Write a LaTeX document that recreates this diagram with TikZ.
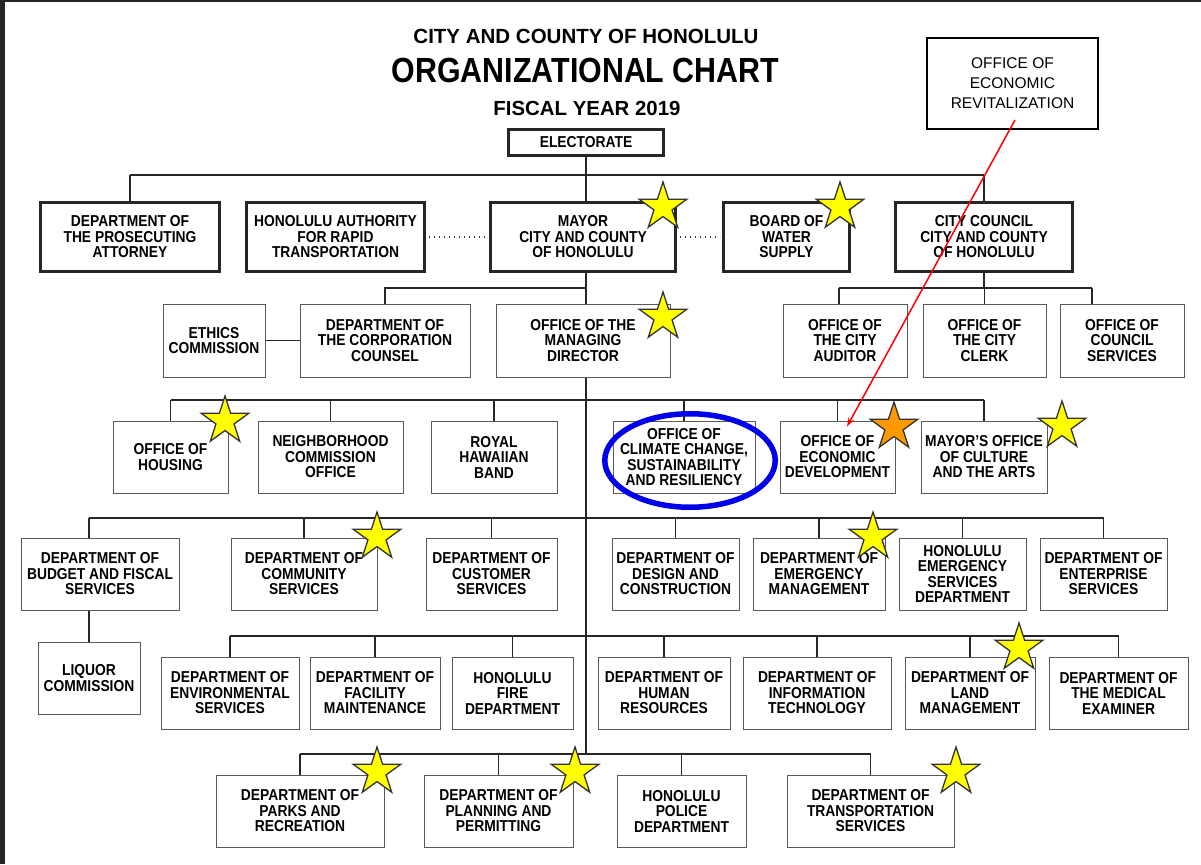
\documentclass[tikz,border=0pt]{standalone}
\usepackage{fontspec}
\setmainfont{Liberation Sans}
\newfontfamily\narrowfont[FakeStretch=0.875]{Liberation Sans}
\newfontfamily\headfont[FakeStretch=0.87]{Liberation Sans}
\usetikzlibrary{arrows.meta,shapes.geometric,backgrounds}
\definecolor{starfill}{RGB}{255,255,0}
\definecolor{staredge}{RGB}{51,51,51}
\definecolor{hiorange}{RGB}{255,153,0}
\definecolor{ringblue}{RGB}{0,0,235}
\definecolor{screenedge}{RGB}{38,38,38}
\tikzset{every picture/.style={line width=0.75pt},
  boxdim/.style 2 args={minimum width=#1pt, minimum height=#2pt},
  dept/.style={draw=black!65, line width=1pt, fill=white, align=center, inner sep=0pt,
    font=\narrowfont\bfseries\fontsize{15.8}{15.5}\selectfont},
  head/.style={dept, draw=black!85, line width=3pt},
  memo/.style={draw=black, line width=2pt, fill=white, align=center, inner sep=0pt,
    font=\fontsize{15.5}{20}\selectfont},
  link/.style={draw=black!85, line width=1.6pt},
  liaison/.style={draw=black!80, line width=1.3pt, dash pattern=on 1.3pt off 3.7pt},
  goldstar/.style={star, star points=5, star point ratio=2.618, minimum size=50pt,
    inner sep=0pt, fill=starfill, draw=staredge, line width=1.3pt},
  pointer/.style={draw=red, line width=1.5pt, -{Stealth[length=9pt,width=6pt]}}}

\begin{document}
\begin{tikzpicture}[x=1pt,y=-1pt]
    \useasboundingbox (0,0) rectangle (1201,864);
    \fill[screenedge] (0,0) rectangle (4.5,864);
    \fill[screenedge] (0,0) rectangle (1201,2);

    % heading
    \node[anchor=base, font=\bfseries\fontsize{20.5}{24}\selectfont] (city) at (586,44) {CITY AND COUNTY OF HONOLULU};
    \node[anchor=base, font=\headfont\bfseries\fontsize{34.9}{38}\selectfont] (title) at (585.5,82.5) {ORGANIZATIONAL CHART};
    \node[anchor=base, font=\bfseries\fontsize{20.4}{24}\selectfont] (fiscal) at (587,115.5) {FISCAL YEAR 2019};

    % elected level
    \node[head, boxdim={155}{26}] (elect) at (586,142.5) {ELECTORATE};
    \node[head, boxdim={179}{69}] (prosec) at (130,237) {DEPARTMENT OF\\THE PROSECUTING\\ATTORNEY};
    \node[head, boxdim={178}{69}] (hart) at (335.5,237) {HONOLULU AUTHORITY\\FOR RAPID\\TRANSPORTATION};
    \node[head, boxdim={185}{69}] (mayor) at (583,237) {MAYOR\\CITY AND COUNTY\\OF HONOLULU};
    \node[head, boxdim={126}{69}] (bws) at (786.5,237) {BOARD OF\\WATER\\SUPPLY};
    \node[head, boxdim={177}{69}] (council) at (984,237) {CITY COUNCIL\\CITY AND COUNTY\\OF HONOLULU};

    % second row
    \node[dept, boxdim={102}{73}] (ethics) at (214,340.5) {ETHICS\\COMMISSION};
    \node[dept, boxdim={170}{73}] (corp) at (385,340.5) {DEPARTMENT OF\\THE CORPORATION\\COUNSEL};
    \node[dept, boxdim={174}{73}] (omd) at (583,340.5) {OFFICE OF THE\\MANAGING\\DIRECTOR};
    \node[dept, boxdim={124}{73}] (auditor) at (845,340.5) {OFFICE OF\\THE CITY\\AUDITOR};
    \node[dept, boxdim={123}{73}] (clerk) at (984.5,340.5) {OFFICE OF\\THE CITY\\CLERK};
    \node[dept, boxdim={124}{73}] (cserv) at (1122,340.5) {OFFICE OF\\COUNCIL\\SERVICES};

    % offices under the managing director
    \node[dept, boxdim={115}{72}] (housing) at (170.5,457) {OFFICE OF\\HOUSING};
    \node[dept, boxdim={145}{72}] (nbhd) at (330.5,457) {NEIGHBORHOOD\\COMMISSION\\OFFICE};
    \node[dept, boxdim={126}{72}] (band) at (494,457) {ROYAL\\HAWAIIAN\\BAND};
    \node[dept, boxdim={142}{72}] (climate) at (684,457) {OFFICE OF\\CLIMATE CHANGE,\\SUSTAINABILITY\\AND RESILIENCY};
    \node[dept, boxdim={115}{72}] (econ) at (837.5,457) {OFFICE OF\\ECONOMIC\\DEVELOPMENT};
    \node[dept, boxdim={126}{72}] (culture) at (984,457) {MAYOR’S OFFICE\\OF CULTURE\\AND THE ARTS};

    % departments, first row
    \node[dept, boxdim={158}{72}] (budget) at (100,574) {DEPARTMENT OF\\BUDGET AND FISCAL\\SERVICES};
    \node[dept, boxdim={146}{72}] (community) at (304,574) {DEPARTMENT OF\\COMMUNITY\\SERVICES};
    \node[dept, boxdim={131}{72}] (customer) at (491.5,574) {DEPARTMENT OF\\CUSTOMER\\SERVICES};
    \node[dept, boxdim={127}{72}] (design) at (675.5,574) {DEPARTMENT OF\\DESIGN AND\\CONSTRUCTION};
    \node[dept, boxdim={132}{72}] (emerg) at (819,574) {DEPARTMENT OF\\EMERGENCY\\MANAGEMENT};
    \node[dept, boxdim={127}{72}] (hesd) at (962.5,574) {HONOLULU\\EMERGENCY\\SERVICES\\DEPARTMENT};
    \node[dept, boxdim={127}{72}] (enterprise) at (1103.5,574) {DEPARTMENT OF\\ENTERPRISE\\SERVICES};
    \node[dept, boxdim={102}{72}] (liquor) at (89,678) {LIQUOR\\COMMISSION};

    % departments, second row
    \node[dept, boxdim={138}{72}] (envir) at (230,693) {DEPARTMENT OF\\ENVIRONMENTAL\\SERVICES};
    \node[dept, boxdim={130}{72}] (facility) at (375,693) {DEPARTMENT OF\\FACILITY\\MAINTENANCE};
    \node[dept, boxdim={121}{72}] (fire) at (512.5,693) {HONOLULU\\FIRE\\DEPARTMENT};
    \node[dept, boxdim={132}{72}] (hr) at (664,693) {DEPARTMENT OF\\HUMAN\\RESOURCES};
    \node[dept, boxdim={148}{72}] (infotech) at (817,693) {DEPARTMENT OF\\INFORMATION\\TECHNOLOGY};
    \node[dept, boxdim={130}{72}] (land) at (970,693) {DEPARTMENT OF\\LAND\\MANAGEMENT};
    \node[dept, boxdim={139}{72}] (medical) at (1118.5,693) {DEPARTMENT OF\\THE MEDICAL\\EXAMINER};

    % departments, third row
    \node[dept, boxdim={168}{72}] (parks) at (300,811) {DEPARTMENT OF\\PARKS AND\\RECREATION};
    \node[dept, boxdim={149}{72}] (planning) at (498.5,811) {DEPARTMENT OF\\PLANNING AND\\PERMITTING};
    \node[dept, boxdim={129}{72}] (police) at (681.5,811) {HONOLULU\\POLICE\\DEPARTMENT};
    \node[dept, boxdim={167}{72}] (transport) at (870.5,811) {DEPARTMENT OF\\TRANSPORTATION\\SERVICES};

    % note box
    \node[memo, boxdim={171}{91}] (oer) at (1012.5,83.5) {OFFICE OF\\ECONOMIC\\REVITALIZATION};

    % reporting lines
    \begin{scope}[on background layer]
        \coordinate (busA) at (0,175);
        \coordinate (busB) at (0,288);
        \coordinate (busC) at (0,400);
        \coordinate (busD) at (0,518);
        \coordinate (busE) at (0,636);
        \coordinate (busF) at (0,754);
        \draw[link] (elect.south) -- (elect.south |- busF);
        \draw[link] (prosec.north |- busA) -- (council.north |- busA);
        \foreach \n in {prosec,council}
            \draw[link] (\n.north) -- (\n.north |- busA);
        \draw[link] (corp.north) |- (elect.south |- busB);
        \draw[link] (ethics) -- (corp);
        \draw[link] (council.south) -- (council.south |- busB);
        \draw[link] ([xshift=-6pt]auditor.north |- busB) -- ([xshift=-30pt]cserv.north |- busB);
        \draw[link] ([xshift=-6pt]auditor.north) -- ([xshift=-6pt]auditor.north |- busB);
        \draw[link] (clerk.north) -- (clerk.north |- busB);
        \draw[link] ([xshift=-30pt]cserv.north) -- ([xshift=-30pt]cserv.north |- busB);
        \draw[link] (housing.north |- busC) -- (culture.north |- busC);
        \foreach \n in {housing,nbhd,band,climate,econ,culture}
            \draw[link] (\n.north) -- (\n.north |- busC);
        \draw[link] (liquor.north |- busD) -- (enterprise.north |- busD);
        \foreach \n in {liquor,community,customer,design,emerg,hesd,enterprise}
            \draw[link] (\n.north) -- (\n.north |- busD);
        \draw[link] (envir.north |- busE) -- (medical.north |- busE);
        \foreach \n in {envir,facility,fire,hr,infotech,land,medical}
            \draw[link] (\n.north) -- (\n.north |- busE);
        \draw[link] (parks.north |- busF) -- (transport.north |- busF);
        \foreach \n in {parks,planning,police,transport}
            \draw[link] (\n.north) -- (\n.north |- busF);
    \end{scope}
    \draw[liaison] ([xshift=3pt]hart.east) -- ([xshift=-3pt]mayor.west);
    \draw[liaison] ([xshift=3pt]mayor.east) -- ([xshift=-2pt]bws.west);

    % stars
    \node[goldstar] (mayorstar) at (663,207) {};
    \node[goldstar] (bwsstar) at (840,207) {};
    \node[goldstar] (omdstar) at (663,317) {};
    \node[goldstar] (housingstar) at (225,421) {};
    \node[goldstar, fill=hiorange] (econstar) at (894,427) {};
    \node[goldstar] (culturestar) at (1062,426) {};
    \node[goldstar] (communitystar) at (377,537) {};
    \node[goldstar] (emergstar) at (873,537) {};
    \node[goldstar] (landstar) at (1019,648) {};
    \node[goldstar] (parksstar) at (377,772) {};
    \node[goldstar] (planningstar) at (575,772) {};
    \node[goldstar] (transportstar) at (956,772) {};

    % marks on top
    \node[draw=ringblue, line width=5.5pt, ellipse, inner sep=0pt, minimum width=170.5pt, minimum height=93.5pt] (ring) at (690,460.5) {};
    \draw[pointer] ([xshift=2.5pt,yshift=10pt]oer.south) -- ([xshift=9.5pt,yshift=-6pt]econ.north);
\end{tikzpicture}
\end{document}
